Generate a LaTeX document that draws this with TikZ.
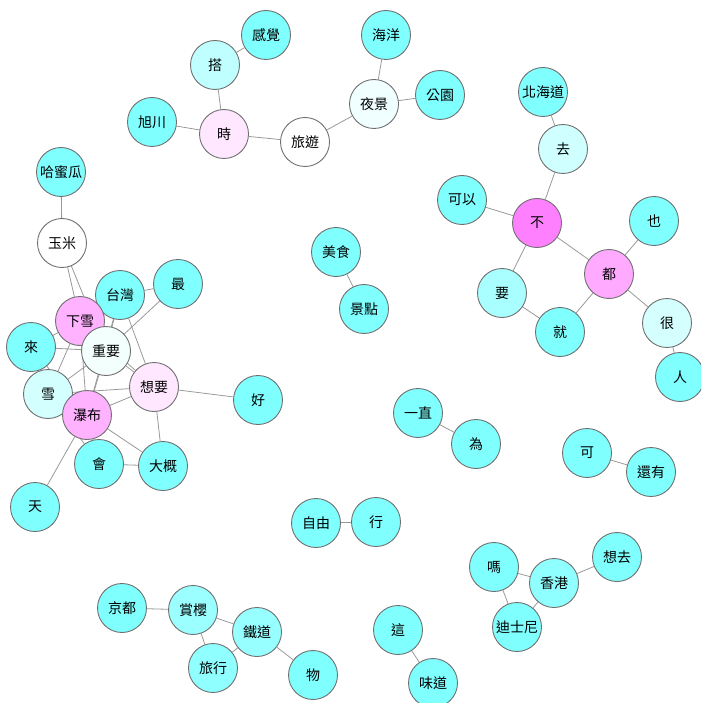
\documentclass[tikz,border=0pt]{standalone}
\usepackage{fontspec}
\newfontfamily\cjkfont{Noto Sans CJK TC}
\usepackage{tikz}
\usetikzlibrary{backgrounds}
\definecolor{wcyan}{HTML}{80FFFF}
\definecolor{wmag}{HTML}{FF80FF}
\definecolor{wpink}{HTML}{FFAAFF}
\definecolor{wlpink}{HTML}{FFE8FF}
\definecolor{wmint}{HTML}{F2FFFD}
\definecolor{wborder}{HTML}{707070}
\definecolor{wedge}{HTML}{999999}

\begin{document}
\begin{tikzpicture}[x=1pt, y=-1pt,
        word/.style={circle, draw=wborder, line width=0.9pt, fill=wcyan, minimum size=49pt, inner sep=0pt,
            font=\cjkfont\fontsize{14}{16}\selectfont},
        link/.style={draw=wedge, line width=0.8pt}]
        \useasboundingbox (0,0) rectangle (701,703);
        \clip (0,0) rectangle (701,703);

        % left cluster
        \node[word] (hamigua) at (61,172) {哈蜜瓜};
        \node[word, fill=white] (yumi) at (62,243) {玉米};
        \node[word] (taiwan) at (120,295) {台灣};
        \node[word] (zui) at (178,284) {最};
        \node[word, fill=wpink!90!white] (xiaxue) at (80,321) {下雪};
        \node[word] (lai) at (31,347) {來};
        \node[word, fill=wmint] (zhongyao) at (106,351) {重要};
        \node[word, fill=wcyan!35!white] (xue) at (48,394) {雪};
        \node[word, fill=wlpink] (xiangyao) at (154,387) {想要};
        \node[word, fill=wpink!90!white] (pubu) at (87,415) {瀑布};
        \node[word] (hao) at (258,400) {好};
        \node[word] (hui) at (99,464) {會};
        \node[word] (dagai) at (163,466) {大概};
        \node[word] (tian) at (35,507) {天};

        % top cluster
        \node[word] (ganjue) at (266,35) {感覺};
        \node[word, fill=wcyan!50!white] (da) at (215,65) {搭};
        \node[word] (xuchuan) at (152,122) {旭川};
        \node[word, fill=wlpink] (shi) at (224,134) {時};
        \node[word, fill=white] (lvyou) at (305,142) {旅遊};
        \node[word, fill=wcyan!12!white] (yejing) at (374,104) {夜景};
        \node[word] (haiyang) at (386,35) {海洋};
        \node[word] (gongyuan) at (440,95) {公園};

        % right cluster
        \node[word] (beihaidao) at (543,92) {北海道};
        \node[word, fill=wcyan!38!white] (qu) at (563,149) {去};
        \node[word] (keyi) at (462,200) {可以};
        \node[word, fill=wmag] (bu) at (537,223) {不};
        \node[word] (ye) at (654,221) {也};
        \node[word, fill=wpink] (dou) at (609,274) {都};
        \node[word, fill=wcyan!68!white] (yao) at (502,293) {要};
        \node[word] (jiu) at (560,332) {就};
        \node[word, fill=wcyan!33!white] (hen) at (667,323) {很};
        \node[word] (ren) at (680,377) {人};

        % pairs
        \node[word] (meishi) at (336,252) {美食};
        \node[word] (jingdian) at (364,309) {景點};
        \node[word] (yizhi) at (418,413) {一直};
        \node[word] (wei) at (476,444) {為};
        \node[word] (ziyou) at (316,523) {自由};
        \node[word] (xing) at (376,522) {行};
        \node[word] (ke) at (587,453) {可};
        \node[word] (haiyou) at (651,472) {還有};
        \node[word] (zhe) at (398,630) {這};
        \node[word] (weidao) at (433,683) {味道};

        % bottom clusters
        \node[word] (ma) at (494,567) {嗎};
        \node[word, fill=wcyan!88!white] (xianggang) at (554,583) {香港};
        \node[word] (xiangqu) at (617,557) {想去};
        \node[word] (disini) at (517,627) {迪士尼};
        \node[word] (jingdu) at (122,608) {京都};
        \node[word, fill=wcyan!78!white] (shangying) at (193,610) {賞櫻};
        \node[word, fill=wcyan!82!white] (tiedao) at (257,632) {鐵道};
        \node[word, fill=wcyan!88!white] (lvxing) at (213,668) {旅行};
        \node[word] (wu) at (313,675) {物};

        \begin{scope}[on background layer]
        \draw[link] (hamigua) -- (yumi);
        \draw[link] (yumi) -- (xiaxue);
        \draw[link] (yumi) -- (zhongyao);
        \draw[link] (taiwan) -- (zui);
        \draw[link] (taiwan) -- (xiaxue);
        \draw[link] (taiwan) -- (zhongyao);
        \draw[link] (taiwan) -- (pubu);
        \draw[link] (taiwan) -- (xiangyao);
        \draw[link] (zui) -- (zhongyao);
        \draw[link] (xiaxue) -- (lai);
        \draw[link] (xiaxue) -- (zhongyao);
        \draw[link] (xiaxue) -- (xue);
        \draw[link] (xiaxue) -- (pubu);
        \draw[link] (xiaxue) -- (xiangyao);
        \draw[link] (lai) -- (zhongyao);
        \draw[link] (lai) -- (xue);
        \draw[link] (lai) -- (pubu);
        \draw[link] (zhongyao) -- (xue);
        \draw[link] (zhongyao) -- (pubu);
        \draw[link] (zhongyao) -- (xiangyao);
        \draw[link] (xue) -- (pubu);
        \draw[link] (xue) -- (xiangyao);
        \draw[link] (xue) -- (hui);
        \draw[link] (pubu) -- (xiangyao);
        \draw[link] (pubu) -- (hui);
        \draw[link] (pubu) -- (dagai);
        \draw[link] (pubu) -- (tian);
        \draw[link] (xiangyao) -- (hao);
        \draw[link] (xiangyao) -- (dagai);
        \draw[link] (hui) -- (dagai);

        \draw[link] (ganjue) -- (da);
        \draw[link] (da) -- (shi);
        \draw[link] (xuchuan) -- (shi);
        \draw[link] (shi) -- (lvyou);
        \draw[link] (lvyou) -- (yejing);
        \draw[link] (yejing) -- (haiyang);
        \draw[link] (yejing) -- (gongyuan);

        \draw[link] (beihaidao) -- (qu);
        \draw[link] (qu) -- (bu);
        \draw[link] (keyi) -- (bu);
        \draw[link] (bu) -- (yao);
        \draw[link] (bu) -- (dou);
        \draw[link] (dou) -- (ye);
        \draw[link] (dou) -- (jiu);
        \draw[link] (dou) -- (hen);
        \draw[link] (yao) -- (jiu);
        \draw[link] (hen) -- (ren);

        \draw[link] (meishi) -- (jingdian);
        \draw[link] (yizhi) -- (wei);
        \draw[link] (ziyou) -- (xing);
        \draw[link] (ke) -- (haiyou);
        \draw[link] (zhe) -- (weidao);

        \draw[link] (ma) -- (xianggang);
        \draw[link] (ma) -- (disini);
        \draw[link] (xianggang) -- (disini);
        \draw[link] (xianggang) -- (xiangqu);
        \draw[link] (jingdu) -- (shangying);
        \draw[link] (shangying) -- (tiedao);
        \draw[link] (shangying) -- (lvxing);
        \draw[link] (lvxing) -- (tiedao);
        \draw[link] (tiedao) -- (wu);
        \end{scope}
    \end{tikzpicture}
\end{document}
